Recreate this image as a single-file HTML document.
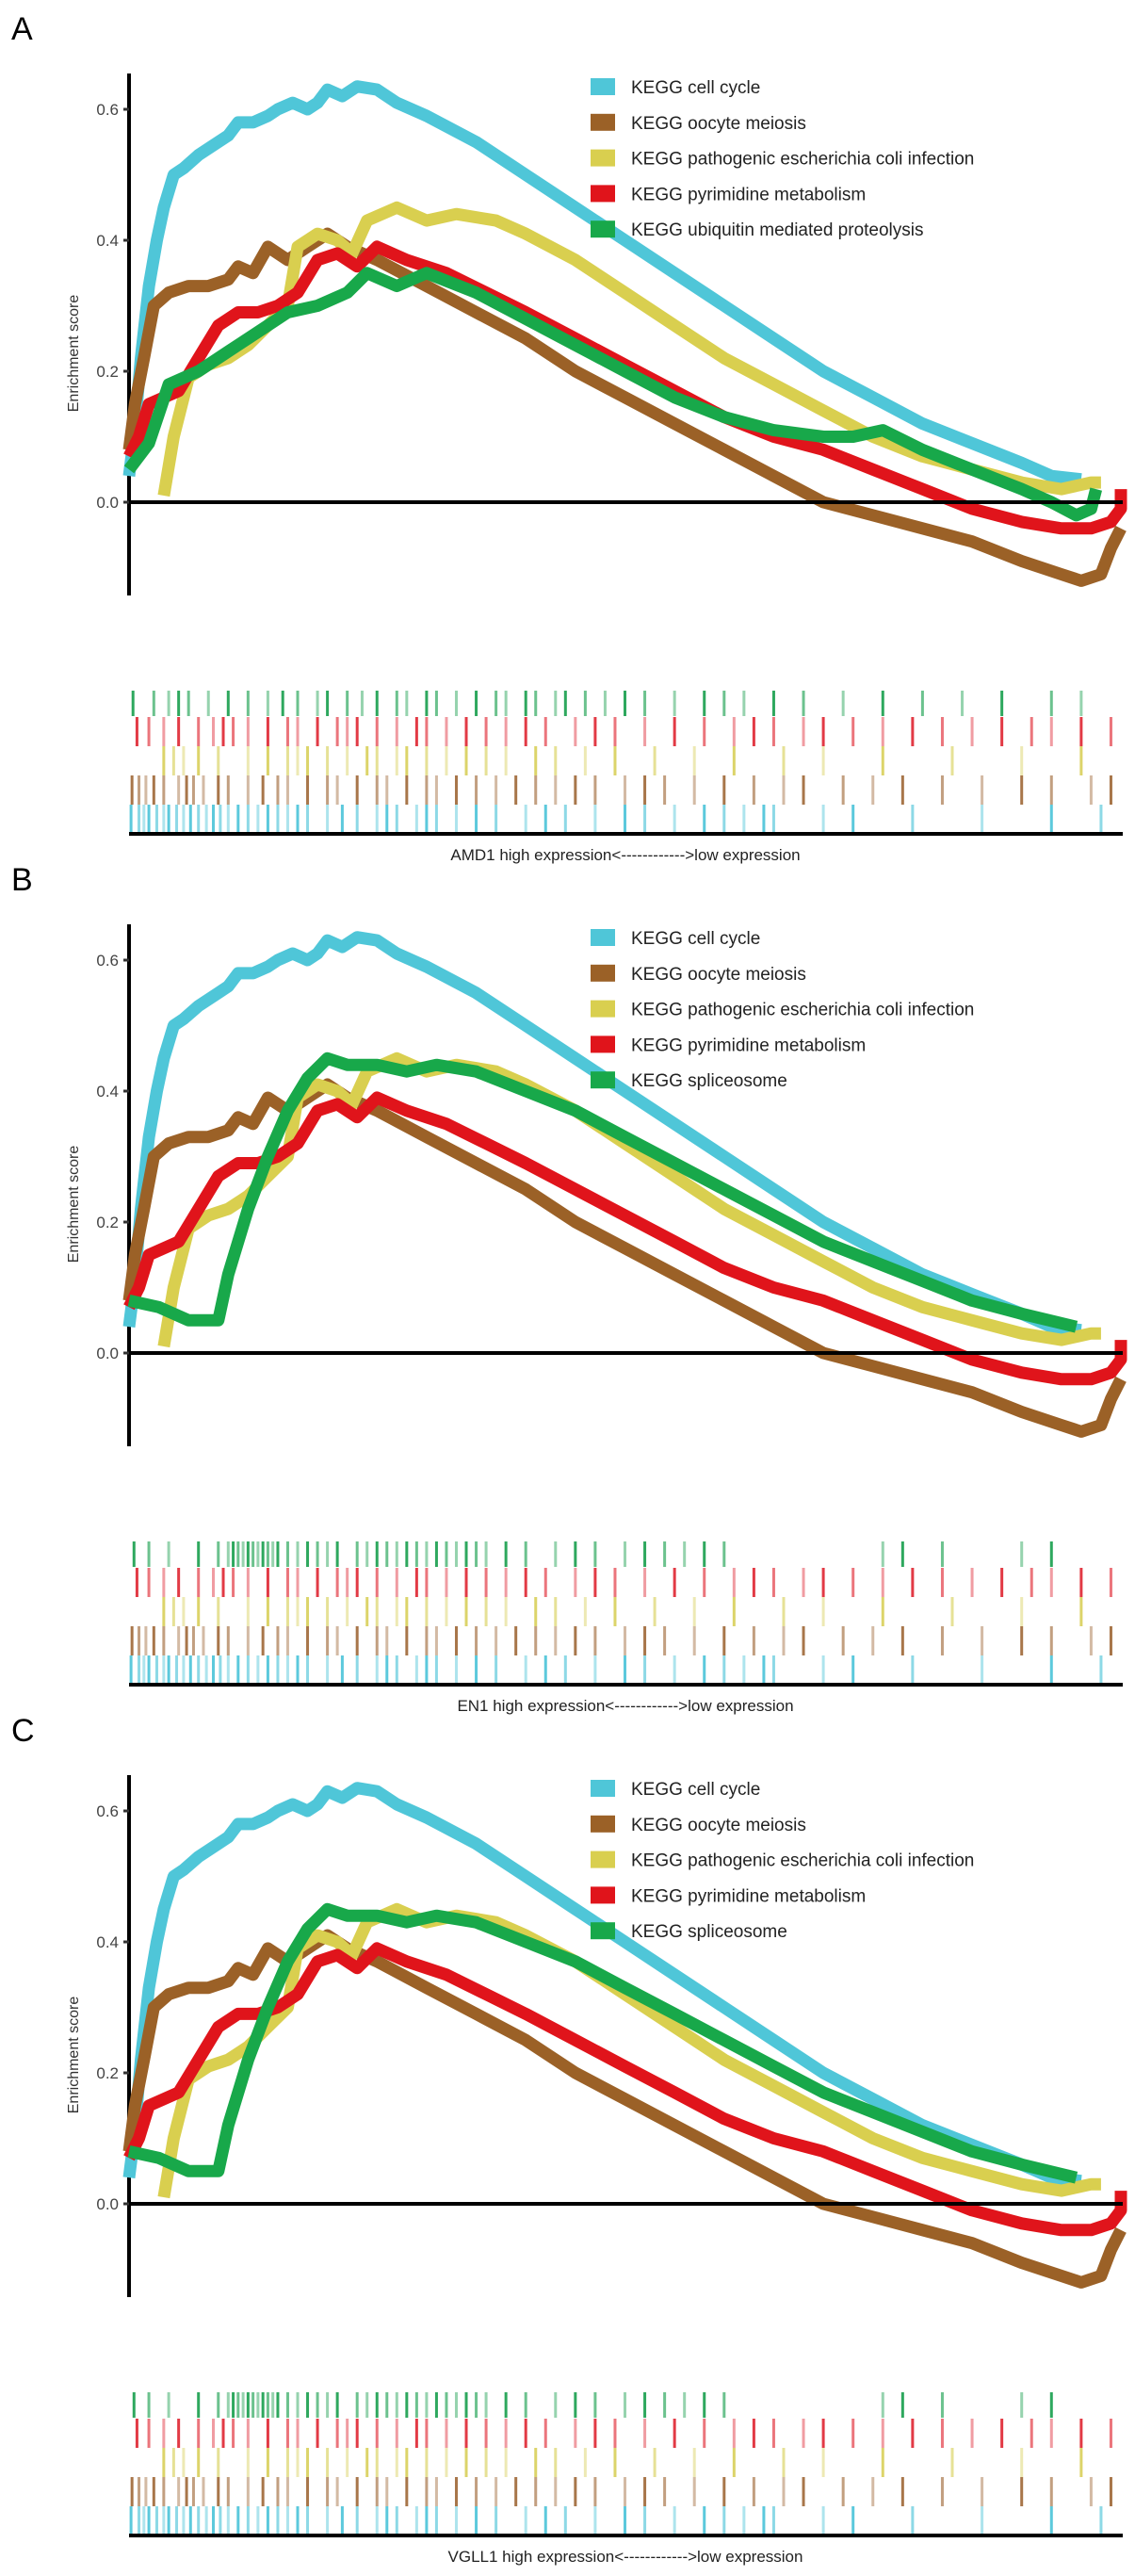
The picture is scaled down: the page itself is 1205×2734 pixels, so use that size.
<!DOCTYPE html>
<html><head><meta charset="utf-8">
<style>
html,body{margin:0;padding:0;background:#fff;}
svg{display:block;font-family:"Liberation Sans",Arial,sans-serif;}
</style></head>
<body>
<svg id="chart" width="1205" height="2734" viewBox="0 0 1205 2734" xmlns="http://www.w3.org/2000/svg"></svg>
<script>
// ---- data ----
const panelLetters = ["A","B","C"];
const geneNames = ["AMD1","EN1","VGLL1"];
const yTicks = [0.0, 0.2, 0.4, 0.6];
const yTickLabels = ["0.0","0.2","0.4","0.6"];
const seriesColors = ["#4fc6d8","#9b6127","#d9cf4f","#e0141b","#18a84a"];
const barColors = ["#5cc9dc","#a8764a","#dcd46a","#e23a45","#2ea85e"];
const legendA = ["KEGG cell cycle","KEGG oocyte meiosis","KEGG pathogenic escherichia coli infection","KEGG pyrimidine metabolism","KEGG ubiquitin mediated proteolysis"];
const legendBC = ["KEGG cell cycle","KEGG oocyte meiosis","KEGG pathogenic escherichia coli infection","KEGG pyrimidine metabolism","KEGG spliceosome"];

// rank positions (fraction of gene list) and running enrichment scores
const cellCycleX = [0,0.005,0.012,0.02,0.028,0.035,0.045,0.055,0.07,0.09,0.1,0.11,0.125,0.14,0.15,0.165,0.18,0.19,0.2,0.215,0.23,0.25,0.27,0.3,0.35,0.4,0.45,0.5,0.55,0.6,0.65,0.7,0.75,0.8,0.85,0.9,0.93,0.96];
const cellCycleY = [0.04,0.1,0.22,0.33,0.4,0.45,0.5,0.51,0.53,0.55,0.56,0.58,0.58,0.59,0.6,0.61,0.6,0.61,0.63,0.62,0.635,0.63,0.61,0.59,0.55,0.5,0.45,0.4,0.35,0.3,0.25,0.2,0.16,0.12,0.09,0.06,0.04,0.035];
const oocyteX = [0,0.006,0.015,0.025,0.04,0.06,0.08,0.1,0.11,0.125,0.14,0.16,0.18,0.2,0.22,0.25,0.3,0.35,0.4,0.45,0.5,0.55,0.6,0.65,0.7,0.75,0.8,0.85,0.9,0.94,0.96,0.98,0.99,1.0];
const oocyteY = [0.08,0.15,0.22,0.3,0.32,0.33,0.33,0.34,0.36,0.35,0.39,0.37,0.39,0.41,0.39,0.37,0.33,0.29,0.25,0.2,0.16,0.12,0.08,0.04,0.0,-0.02,-0.04,-0.06,-0.09,-0.11,-0.12,-0.11,-0.07,-0.04];
const ecoliX = [0.035,0.045,0.06,0.08,0.1,0.12,0.14,0.16,0.17,0.19,0.21,0.225,0.24,0.27,0.3,0.33,0.37,0.4,0.45,0.5,0.55,0.6,0.65,0.7,0.75,0.8,0.85,0.9,0.94,0.97,0.98];
const ecoliY = [0.01,0.1,0.19,0.21,0.22,0.24,0.27,0.3,0.39,0.41,0.4,0.38,0.43,0.45,0.43,0.44,0.43,0.41,0.37,0.32,0.27,0.22,0.18,0.14,0.1,0.07,0.05,0.03,0.02,0.03,0.03];
const pyrimidineX = [0,0.01,0.02,0.05,0.07,0.09,0.11,0.13,0.15,0.17,0.19,0.21,0.23,0.25,0.28,0.32,0.36,0.4,0.45,0.5,0.55,0.6,0.65,0.7,0.75,0.8,0.85,0.9,0.94,0.97,0.99,1.0,1.0];
const pyrimidineY = [0.07,0.1,0.15,0.17,0.22,0.27,0.29,0.29,0.3,0.32,0.37,0.38,0.36,0.39,0.37,0.35,0.32,0.29,0.25,0.21,0.17,0.13,0.1,0.08,0.05,0.02,-0.01,-0.03,-0.04,-0.04,-0.03,-0.01,0.02];
const ubiquitinX = [0,0.02,0.04,0.07,0.1,0.13,0.16,0.19,0.22,0.24,0.27,0.3,0.35,0.4,0.45,0.5,0.55,0.6,0.65,0.7,0.73,0.76,0.8,0.85,0.9,0.93,0.955,0.97,0.975];
const ubiquitinY = [0.05,0.09,0.18,0.2,0.23,0.26,0.29,0.3,0.32,0.35,0.33,0.35,0.32,0.28,0.24,0.2,0.16,0.13,0.11,0.1,0.1,0.11,0.08,0.05,0.02,0.0,-0.02,-0.01,0.02];
const spliceosomeX = [0,0.03,0.06,0.09,0.1,0.12,0.14,0.16,0.18,0.2,0.22,0.25,0.28,0.31,0.35,0.4,0.45,0.5,0.55,0.6,0.65,0.7,0.75,0.8,0.85,0.9,0.955];
const spliceosomeY = [0.08,0.07,0.05,0.05,0.12,0.22,0.3,0.37,0.42,0.45,0.44,0.44,0.43,0.44,0.43,0.4,0.37,0.33,0.29,0.25,0.21,0.17,0.14,0.11,0.08,0.06,0.04];

// gene set hit positions (barcode rows)
const hitsCellCycle = [0.002,0.01,0.015,0.02,0.028,0.035,0.04,0.048,0.055,0.062,0.07,0.078,0.085,0.092,0.1,0.11,0.12,0.13,0.14,0.15,0.16,0.17,0.18,0.2,0.215,0.23,0.25,0.26,0.27,0.29,0.3,0.31,0.33,0.35,0.37,0.4,0.42,0.44,0.47,0.5,0.52,0.55,0.58,0.6,0.62,0.64,0.65,0.7,0.73,0.79,0.86,0.93,0.98];
const hitsOocyte = [0.003,0.01,0.017,0.025,0.035,0.05,0.058,0.065,0.075,0.09,0.1,0.12,0.135,0.15,0.16,0.18,0.2,0.21,0.23,0.25,0.26,0.28,0.3,0.31,0.33,0.35,0.37,0.39,0.41,0.43,0.45,0.47,0.5,0.52,0.54,0.57,0.6,0.63,0.66,0.68,0.72,0.75,0.78,0.82,0.86,0.9,0.93,0.97,0.99];
const hitsEcoli = [0.035,0.045,0.055,0.07,0.09,0.12,0.14,0.16,0.17,0.18,0.2,0.22,0.24,0.25,0.27,0.28,0.3,0.32,0.34,0.36,0.38,0.41,0.43,0.46,0.49,0.53,0.57,0.61,0.66,0.7,0.76,0.83,0.9,0.96];
const hitsPyrimidine = [0.008,0.02,0.035,0.05,0.07,0.085,0.095,0.105,0.12,0.14,0.16,0.17,0.19,0.21,0.22,0.23,0.25,0.27,0.29,0.3,0.32,0.34,0.36,0.38,0.4,0.42,0.45,0.47,0.49,0.52,0.55,0.58,0.61,0.63,0.65,0.68,0.7,0.73,0.76,0.79,0.82,0.85,0.88,0.91,0.93,0.96,0.99];
const hitsUbiquitin = [0.004,0.025,0.04,0.05,0.06,0.08,0.1,0.12,0.14,0.155,0.17,0.19,0.2,0.22,0.235,0.25,0.27,0.28,0.3,0.31,0.33,0.35,0.37,0.38,0.4,0.41,0.43,0.44,0.46,0.48,0.5,0.52,0.55,0.58,0.6,0.62,0.65,0.68,0.72,0.76,0.8,0.84,0.88,0.93,0.96];
const hitsSpliceosome = [0.005,0.02,0.04,0.07,0.09,0.1,0.105,0.11,0.115,0.12,0.125,0.13,0.135,0.14,0.145,0.15,0.16,0.17,0.18,0.19,0.2,0.21,0.23,0.24,0.25,0.26,0.27,0.28,0.29,0.3,0.31,0.32,0.33,0.34,0.35,0.36,0.38,0.4,0.43,0.45,0.47,0.5,0.52,0.54,0.56,0.58,0.6,0.76,0.78,0.82,0.9,0.93];

// ---- layout ----
const NS = "http://www.w3.org/2000/svg";
const svg = document.getElementById("chart");
const X0 = 137, X1 = 1190, PANEL_DY = 903;
function xScale(f){ return X0 + f*(X1-X0); }
function yScale(v, off){ return off + 533 - v*(139/0.2); }
function mk(tag, attrs, parent){
  const e = document.createElementNS(NS, tag);
  for (const k in attrs) e.setAttribute(k, attrs[k]);
  (parent||svg).appendChild(e);
  return e;
}

const curvesA = [[cellCycleX,cellCycleY],[oocyteX,oocyteY],[ecoliX,ecoliY],[pyrimidineX,pyrimidineY],[ubiquitinX,ubiquitinY]];
const curvesBC = [[cellCycleX,cellCycleY],[oocyteX,oocyteY],[ecoliX,ecoliY],[pyrimidineX,pyrimidineY],[spliceosomeX,spliceosomeY]];
const hitsA = [hitsUbiquitin,hitsPyrimidine,hitsEcoli,hitsOocyte,hitsCellCycle];
const hitsBC = [hitsSpliceosome,hitsPyrimidine,hitsEcoli,hitsOocyte,hitsCellCycle];
const rowColorIdx = [4,3,2,1,0];

for (let p=0; p<3; p++){
  const off = p*PANEL_DY;
  const g = mk("g", {});
  
  

  const lt = mk("text", {x:12, y:off+42, "font-size":34, fill:"#000"}, g);
  
  
  lt.textContent = panelLetters[p];

  const ya = mk("line", {x1:X0, y1:off+78, x2:X0, y2:off+632, stroke:"#000", "stroke-width":4}, g);
  
  
  for (let i=0;i<yTicks.length;i++){
    const y = yScale(yTicks[i], off);
    const tk = mk("line", {x1:X0-6, y1:y, x2:X0, y2:y, stroke:"#333", "stroke-width":3}, g);
    
    
    const tl = mk("text", {x:X0-11, y:y+6, "font-size":17, fill:"#444", "text-anchor":"end"}, g);
    
    
    tl.textContent = yTickLabels[i];
  }
  const yt = mk("text", {x:0, y:0, "font-size":16, fill:"#333", "text-anchor":"middle", transform:`translate(83,${off+375}) rotate(-90)`}, g);
  
  
  yt.textContent = "Enrichment score";

  const curves = p===0 ? curvesA : curvesBC;
  const names = p===0 ? legendA : legendBC;
  for (let s=0;s<curves.length;s++){
    const [xs, ys] = curves[s];
    const pts = xs.map((f,i)=> xScale(f).toFixed(1)+","+yScale(ys[i],off).toFixed(1)).join(" ");
    const pl = mk("polyline", {points:pts, fill:"none", stroke:seriesColors[s], "stroke-width":13, "stroke-linejoin":"round", "stroke-linecap":"butt"}, g);
    
    
  }
  const zl = mk("line", {x1:X0, y1:yScale(0,off), x2:X1+2, y2:yScale(0,off), stroke:"#000", "stroke-width":4}, g);
  
  

  for (let s=0;s<names.length;s++){
    const ly = off + 92 + s*37.8;
    const sw = mk("rect", {x:627, y:ly-9, width:26, height:18, fill:seriesColors[s]}, g);
    
    
    const tx = mk("text", {x:670, y:ly+7, "font-size":19, fill:"#222"}, g);
    
    
    tx.textContent = names[s];
  }

  const hits = p===0 ? hitsA : hitsBC;
  const rowTop = [733,761,792,823,854];
  const rowH = [27,31,31,31,29];
  for (let r=0;r<5;r++){
    const col = barColors[rowColorIdx[r]];
    hits[r].forEach((f,i)=>{
      const b = mk("rect", {x:xScale(f)-1.5, y:off+rowTop[r], width:3, height:rowH[r], fill:col, opacity:(i%3===0?1:(i%3===1?0.7:0.5))}, g);
      
      
    });
  }
  const bl = mk("line", {x1:X0, y1:off+885, x2:X1+2, y2:off+885, stroke:"#000", "stroke-width":4}, g);
  
  
  const xl = mk("text", {x:664, y:off+913, "font-size":17, fill:"#222", "text-anchor":"middle"}, g);
  
  
  xl.textContent = geneNames[p] + " high expression<------------>low expression";
}
</script>
</body></html>
